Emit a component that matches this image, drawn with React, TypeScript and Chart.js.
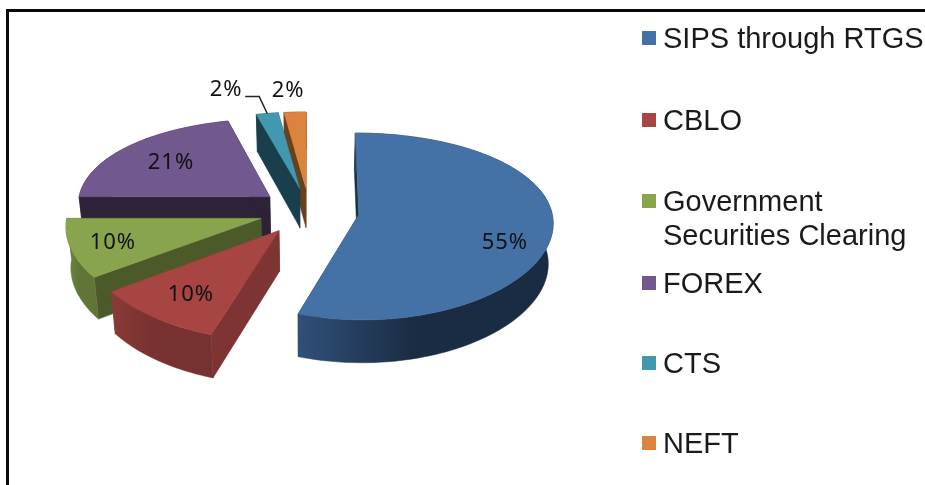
import React, { useEffect, useRef } from "react";
import { Chart, registerables } from "chart.js";

Chart.register(...registerables);

const categories = ["SIPS through RTGS", "CBLO", "Government Securities Clearing", "FOREX", "CTS", "NEFT"];
const shares = [55, 10, 10, 21, 2, 2];
const legendLines = [["SIPS through RTGS"], ["CBLO"], ["Government", "Securities Clearing"], ["FOREX"], ["CTS"], ["NEFT"]];
const legendRowY = [38, 120, 201, 283, 363, 443];
const topColors = ["#4472A6", "#A64542", "#88A44D", "#71588F", "#4198AF", "#DB843D"];
const sideColors = ["#1B2E45", "#7E3432", "#4C5A2A", "#2D2238", "#1A3F4C", "#6A3F1B"];
const rimLeftColors = ["#30507A", "#8A3A37", "#708A40", "#2D2238", "#1A3F4C", "#6A3F1B"];
const rimRightColors = ["#1A2C43", "#763130", "#5F7636", "#2D2238", "#1A3F4C", "#6A3F1B"];
const labelRadius = [0.79, 0.746, 0.786, 0.675, 1.408, 1.324];
const labelShiftDeg = [13, -1.7, -1.1, -0.9, -7, -0.9];
const drawOrder = [5, 4, 3, 2, 1, 0];

const originX = 309;
const originY = 211;
const radiusX = 193;
const radiusY = 91;
const tilt = 0.125;
const explode = 0.26;
const depth = 40;
const depthShrink = 0.98;

function project(X: number, Y: number) {
  const s = 1 / (1 - tilt * Y);
  return { x: originX + radiusX * X * Math.pow(s, 0.6), y: originY + radiusY * Y * s, s };
}
function drop(p: { x: number; y: number; s: number }) {
  return { x: originX + (p.x - originX) * depthShrink, y: p.y + depth * Math.sqrt(p.s), s: p.s };
}
function polygon(ctx: CanvasRenderingContext2D, pts: { x: number; y: number }[], fill: string | CanvasGradient) {
  ctx.beginPath();
  pts.forEach((p, i) => (i ? ctx.lineTo(p.x, p.y) : ctx.moveTo(p.x, p.y)));
  ctx.closePath();
  ctx.fillStyle = fill;
  ctx.strokeStyle = fill;
  ctx.lineWidth = 0.5;
  ctx.fill();
  ctx.stroke();
}

const piePlugin = {
  id: "tiltedPie",
  beforeDatasetsDraw(chart: any) {
    const ctx: CanvasRenderingContext2D = chart.ctx;
    const arcs = chart.getDatasetMeta(0).data;
    const geom = arcs.map((arc: any) => {
      const mid = (arc.startAngle + arc.endAngle) / 2;
      return { a0: arc.startAngle, a1: arc.endAngle, mid, cx: explode * Math.cos(mid), cy: explode * Math.sin(mid) };
    });
    ctx.save();
    drawOrder.forEach((i) => {
      const g = geom[i];
      const apex = project(g.cx, g.cy);
      const rim: any[] = [];
      const steps = Math.max(4, Math.ceil((g.a1 - g.a0) / 0.03));
      for (let k = 0; k <= steps; k++) {
        const a = g.a0 + ((g.a1 - g.a0) * k) / steps;
        rim.push(project(g.cx + Math.cos(a), g.cy + Math.sin(a)));
      }
      const xs = rim.map((p) => p.x);
      const x0 = Math.min(...xs);
      const x1 = Math.max(...xs);
      const grad = ctx.createLinearGradient(x0, 0, x0 + (x1 - x0) * 0.45, 0);
      grad.addColorStop(0, rimLeftColors[i]);
      grad.addColorStop(1, rimRightColors[i]);
      polygon(ctx, [apex, rim[0], drop(rim[0]), drop(apex)], sideColors[i]);
      polygon(ctx, [apex, rim[rim.length - 1], drop(rim[rim.length - 1]), drop(apex)], sideColors[i]);
      polygon(ctx, [...rim, ...rim.map(drop).reverse()], grad);
      polygon(ctx, [apex, ...rim], topColors[i]);
    });

    ctx.font = '22px "Noto Sans"';
    (ctx as any).letterSpacing = "1px";
    ctx.textAlign = "center";
    ctx.textBaseline = "middle";
    ctx.fillStyle = "#111";
    const total = chart.data.datasets[0].data.reduce((a: number, b: number) => a + b, 0);
    geom.forEach((g: any, i: number) => {
      const a = g.mid + (labelShiftDeg[i] * Math.PI) / 180;
      const p = project(g.cx + labelRadius[i] * Math.cos(a), g.cy + labelRadius[i] * Math.sin(a));
      ctx.fillText(`${Math.round((chart.data.datasets[0].data[i] / total) * 100)}%`, p.x, p.y);
    });

    const t = geom[4];
    const end = project(t.cx + Math.cos(t.mid), t.cy + Math.sin(t.mid));
    ctx.beginPath();
    ctx.moveTo(end.x - 22, end.y - 17);
    ctx.lineTo(end.x - 8, end.y - 17);
    ctx.lineTo(end.x, end.y);
    ctx.strokeStyle = "#222";
    ctx.lineWidth = 1.5;
    ctx.stroke();
    ctx.restore();
    return false;
  },
  afterDraw(chart: any) {
    const ctx: CanvasRenderingContext2D = chart.ctx;
    ctx.save();
    ctx.font = '29px "Liberation Sans"';
    ctx.textAlign = "left";
    ctx.textBaseline = "middle";
    legendLines.forEach((lines, i) => {
      const y = legendRowY[i];
      ctx.fillStyle = topColors[i];
      ctx.fillRect(642, y - 7, 14, 14);
      ctx.fillStyle = "#1a1a1a";
      lines.forEach((line, j) => ctx.fillText(line, 663, y + 2 + j * 34));
    });
    ctx.restore();
  },
};

export default function App() {
  const ref = useRef<HTMLCanvasElement>(null);
  useEffect(() => {
    const chart = new Chart(ref.current!, {
      type: "pie",
      data: {
        labels: categories,
        datasets: [{ data: shares, backgroundColor: topColors, borderWidth: 0 }],
      },
      options: {
        animation: false,
        responsive: false,
        plugins: { legend: { display: false }, tooltip: { enabled: false } },
      },
      plugins: [piePlugin],
    } as any);
    return () => chart.destroy();
  }, []);
  return (
    <div style={{ position: "fixed", left: 0, top: 0, width: 925, height: 485, background: "#fff", overflow: "hidden" }}>
      <canvas ref={ref} width={925} height={485} style={{ position: "absolute", left: 0, top: 0, filter: "blur(0.5px)" }} />
      <div style={{ position: "absolute", left: 6, top: 9, width: 930, height: 490, borderLeft: "3px solid #0a0a0a", borderTop: "3px solid #0a0a0a" }} />
    </div>
  );
}
